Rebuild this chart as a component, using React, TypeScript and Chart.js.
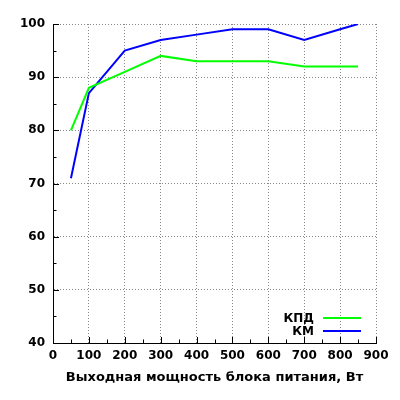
import React, { useEffect, useRef } from "react";
import { Chart, registerables } from "chart.js";

Chart.register(...registerables);

const powerW = [50, 100, 200, 300, 400, 500, 600, 700, 800, 850];
const kpd = [80, 88, 91, 94, 93, 93, 93, 92, 92, 92];
const km = [71, 87, 95, 97, 98, 99, 99, 97, 99, 100];
const seriesLabels = ["КПД", "КМ"];
const xTitle = "Выходная мощность блока питания, Вт";

const FONT = "'DejaVu Sans', sans-serif";

const inwardTicks = {
  id: "inwardTicks",
  afterDraw(chart: any) {
    const ctx = chart.ctx;
    const { left, right, bottom } = chart.chartArea;
    const xs = chart.scales.x;
    const ys = chart.scales.y;
    ctx.save();
    ctx.strokeStyle = "#000";
    ctx.lineWidth = 1;
    ctx.setLineDash([]);
    ctx.beginPath();
    const xt = xs.ticks.map((t: any) => t.value);
    xt.forEach((v: number, i: number) => {
      const p = Math.round(xs.getPixelForValue(v)) + 0.5;
      ctx.moveTo(p, bottom);
      ctx.lineTo(p, bottom - 6);
      if (i < xt.length - 1) {
        const m = Math.round(xs.getPixelForValue((v + xt[i + 1]) / 2)) + 0.5;
        ctx.moveTo(m, bottom);
        ctx.lineTo(m, bottom - 3.5);
      }
    });
    const yt = ys.ticks.map((t: any) => t.value);
    yt.forEach((v: number, i: number) => {
      const p = Math.round(ys.getPixelForValue(v)) + 0.5;
      ctx.moveTo(left, p);
      ctx.lineTo(left + 6, p);
      if (i < yt.length - 1) {
        const m = Math.round(ys.getPixelForValue((v + yt[i + 1]) / 2)) + 0.5;
        ctx.moveTo(left, m);
        ctx.lineTo(left + 3.5, m);
      }
    });
    ctx.stroke();

    // legend inside plot, bottom right
    const ds = chart.data.datasets;
    ctx.font = `bold 12px ${FONT}`;
    ctx.textAlign = "right";
    ctx.textBaseline = "middle";
    const lineEnd = right - 15;
    const lineStart = lineEnd - 38;
    ds.forEach((d: any, i: number) => {
      const y = bottom - 12 - (ds.length - 1 - i) * 13;
      ctx.fillStyle = "#000";
      ctx.fillText(d.label, lineStart - 9, y + 1);
      ctx.strokeStyle = d.borderColor;
      ctx.lineWidth = 2;
      ctx.beginPath();
      ctx.moveTo(lineStart, y);
      ctx.lineTo(lineEnd, y);
      ctx.stroke();
    });
    ctx.restore();
  },
};

export default function App() {
  const ref = useRef<HTMLCanvasElement>(null);
  useEffect(() => {
    document.body.style.margin = "0";
    const chart = new Chart(ref.current!, {
      type: "line",
      data: {
        datasets: [
          {
            label: seriesLabels[0],
            data: powerW.map((x, i) => ({ x, y: kpd[i] })),
            borderColor: "#00ff00",
            borderWidth: 2,
            pointRadius: 0,
            tension: 0,
          },
          {
            label: seriesLabels[1],
            data: powerW.map((x, i) => ({ x, y: km[i] })),
            borderColor: "#0000ff",
            borderWidth: 2,
            pointRadius: 0,
            tension: 0,
          },
        ],
      },
      options: {
        animation: false,
        responsive: false,
        devicePixelRatio: 1,
        layout: { padding: { top: 24, right: 24, left: 0, bottom: 0 } },
        plugins: { legend: { display: false }, tooltip: { enabled: false } },
        scales: {
          x: {
            type: "linear",
            min: 0,
            max: 900,
            ticks: {
              stepSize: 100,
              color: "#000",
              padding: 6,
              maxRotation: 0,
              font: { family: FONT, weight: "bold", size: 12 },
            },
            grid: { color: "#888", drawTicks: false },
            border: { display: true, color: "#000", width: 1, dash: [1, 2] },
            title: {
              display: true,
              text: xTitle,
              color: "#000",
              font: { family: FONT, weight: "bold", size: 13 },
              padding: { top: 4, bottom: 15 },
            },
            afterFit(s: any) {
              s.height = 57;
            },
          },
          y: {
            min: 40,
            max: 100,
            ticks: {
              stepSize: 10,
              color: "#000",
              padding: 8,
              font: { family: FONT, weight: "bold", size: 12 },
            },
            grid: { color: "#888", drawTicks: false },
            border: { display: true, color: "#000", width: 1, dash: [1, 2] },
            afterFit(s: any) {
              s.width = 53;
            },
          },
        },
      },
      plugins: [inwardTicks],
    } as any);
    return () => chart.destroy();
  }, []);
  return <canvas ref={ref} width={400} height={400} style={{ display: "block" }} />;
}
